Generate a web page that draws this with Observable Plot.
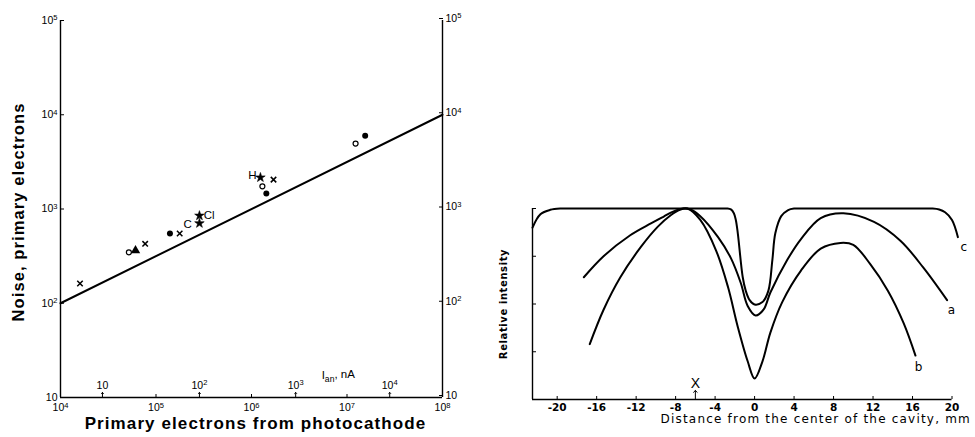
<!DOCTYPE html>
<html><head><meta charset="utf-8">
<script src="https://cdn.jsdelivr.net/npm/d3@7"></script>
<script src="https://cdn.jsdelivr.net/npm/@observablehq/plot@0.6"></script>
<style>
body{margin:0;background:#fff}
#wrap{position:relative;width:975px;height:437px;overflow:hidden;background:#fff}
#left,#right{position:absolute;top:0}
#left{left:0}
#right{left:470px}
</style></head><body><div id="wrap"><div id="left"></div><div id="right"></div></div>
<script>
// ---------- Left panel data ----------
const xTicks = [1e4, 1e5, 1e6, 1e7, 1e8];
const xTickLabels = ["10⁴", "10⁵", "10⁶", "10⁷", "10⁸"];
const yTicks = [10, 1e2, 1e3, 1e4, 1e5];
const yTickLabels = ["10", "10²", "10³", "10⁴", "10⁵"];
const ianPos = [2.75e4, 2.85e5, 2.9e6, 2.8e7];
const ianLabels = ["10", "10²", "10³", "10⁴"];
const ianTitle = ["I|an|, nA"];
const ianTitleX = [8.1e6];
const ianTitleY = [17];
const fitX = [1e4, 1e8];
const fitY = [100, 1e4];
const ptX = [1.6e4, 5.2e4, 6.1e4, 7.7e4, 1.4e5, 1.77e5, 2.85e5, 2.85e5, 1.24e6, 1.3e6, 1.43e6, 1.7e6, 1.23e7, 1.55e7];
const ptY = [162, 347, 363, 427, 550, 550, 705, 850, 2160, 1740, 1460, 2050, 4950, 6000];
const ptKind = ["cross", "open", "triangle", "cross", "filled", "cross", "star", "star", "star", "open", "filled", "cross", "open", "filled"];
const annText = ["C", "Cl", "H"];
const annX = [2.14e5, 3.6e5, 1.02e6];
const annY = [685, 850, 2260];

// ---------- Right panel data ----------
const dTicks = [-20, -16, -12, -8, -4, 0, 4, 8, 12, 16, 20];
const iTicks = [0, 0.25, 0.5, 0.75, 1];
const cX = [-22.5, -21.7, -20.7, -19.6, -18, -12, -6, -3.5, -2.8, -2.4, -2.1, -1.9, -1.7, -1.2, -0.9, -0.5, 0, 0.8, 1.4, 1.8, 2.1, 2.7, 3.4, 4, 4.8, 10, 17, 18, 18.7, 19.3, 20, 20.6];
const cY = [0.90, 0.97, 0.993, 1.0, 1.0, 1.0, 1.0, 1.0, 1.0, 0.995, 0.975, 0.94, 0.87, 0.64, 0.57, 0.52, 0.497, 0.51, 0.57, 0.73, 0.87, 0.96, 0.992, 1.0, 1.0, 1.0, 1.0, 1.0, 0.995, 0.98, 0.94, 0.85];
const aX = [-17.3, -15.3, -12.6, -10.5, -9.2, -8.2, -7.2, -6.5, -5.5, -3.7, -2.4, -1.4, -0.7, 0.1, 0.9, 1.6, 3.3, 4.7, 6.7, 9.0, 12.1, 14.8, 17.1, 19.5];
const aY = [0.64, 0.75, 0.86, 0.922, 0.958, 0.985, 1.0, 0.995, 0.96, 0.85, 0.74, 0.61, 0.49, 0.44, 0.47, 0.56, 0.73, 0.84, 0.95, 0.975, 0.93, 0.83, 0.69, 0.52];
const bX = [-16.7, -15.3, -13.6, -11.5, -9.8, -8.5, -7.5, -6.8, -5.5, -3.9, -2.7, -1.7, -0.7, 0, 0.8, 1.6, 2.8, 4.7, 6.7, 8.7, 10.0, 11.7, 13.5, 15.1, 16.3];
const bY = [0.29, 0.47, 0.64, 0.80, 0.905, 0.965, 0.995, 1.0, 0.94, 0.78, 0.59, 0.38, 0.20, 0.11, 0.20, 0.35, 0.51, 0.675, 0.79, 0.82, 0.81, 0.71, 0.57, 0.40, 0.23];
const curveLabel = ["a", "b", "c"];
const curveLabelX = [19.95, 16.6, 21.2];
const curveLabelY = [0.466, 0.17, 0.80];
const markerX = [-6];
const markerText = ["X"];

// ---------- build tables ----------
const xFmt = new Map(xTicks.map((d, i) => [d, xTickLabels[i]]));
const yFmt = new Map(yTicks.map((d, i) => [d, yTickLabels[i]]));
const points = ptX.map((x, i) => ({x, y: ptY[i], kind: ptKind[i]}));
const fit = fitX.map((x, i) => ({x, y: fitY[i]}));
const ann = annText.map((t, i) => ({t, x: annX[i], y: annY[i]}));
const ian = ianPos.map((x, i) => ({x, t: ianLabels[i]}));
const toRows = (X, Y, name) => X.map((x, i) => ({x, y: Y[i], name}));
const curves = [...toRows(aX, aY, "a"), ...toRows(bX, bY, "b"), ...toRows(cX, cY, "c")];
const clabels = curveLabel.map((t, i) => ({t, x: curveLabelX[i], y: curveLabelY[i]}));

const FONT = "'Liberation Sans', Arial, Helvetica, sans-serif";
const FONT2 = "'DejaVu Sans', 'Liberation Sans', sans-serif";

const left = Plot.plot({
  width: 470, height: 437,
  marginLeft: 60, marginRight: 28, marginTop: 20, marginBottom: 40,
  style: {fontFamily: FONT, fontSize: "10px", background: "white", color: "black", overflow: "visible"},
  x: {type: "log", domain: [1e4, 1e8]},
  y: {type: "log", domain: [10, 1e5]},
  marks: [
    Plot.ruleX([1e4, 1e8], {stroke: "black", strokeWidth: 1.4}),
    Plot.ruleY([10], {stroke: "black", strokeWidth: 1.6}),
    Plot.axisY(yTicks, {anchor: "left", tickSize: -4, tickPadding: 7, tickFormat: d => yFmt.get(d), label: null, fontSize: 10.5}),
    Plot.axisY(yTicks, {anchor: "right", tickSize: -4, tickPadding: 7, tickFormat: d => yFmt.get(d), label: null, fontSize: 10.5, dy: -2}),
    Plot.axisX(xTicks, {anchor: "bottom", tickSize: -3, tickPadding: 9, tickFormat: d => xFmt.get(d), label: null, fontSize: 10.5}),
    Plot.vector(ian, {x: "x", y: 10, length: 5, anchor: "start", stroke: "black", strokeWidth: 1}),
    Plot.text(ian, {x: "x", y: 10, text: "t", dy: -12, fontSize: 10.5}),
    Plot.text(ianTitle, {x: ianTitleX, y: ianTitleY, text: d => d, fontSize: 11.5}),
    Plot.line(fit, {x: "x", y: "y", stroke: "black", strokeWidth: 2}),
    Plot.dot(points.filter(d => d.kind === "cross"), {x: "x", y: "y", symbol: "times", r: 2.6, stroke: "black", strokeWidth: 1.5}),
    Plot.dot(points.filter(d => d.kind === "open"), {x: "x", y: "y", symbol: "circle", r: 2.5, stroke: "black", strokeWidth: 1.2, fill: "white"}),
    Plot.dot(points.filter(d => d.kind === "filled"), {x: "x", y: "y", symbol: "circle", r: 3, fill: "black", stroke: "none"}),
    Plot.dot(points.filter(d => d.kind === "triangle"), {x: "x", y: "y", symbol: "triangle", r: 3.5, fill: "black", stroke: "none"}),
    Plot.dot(points.filter(d => d.kind === "star"), {x: "x", y: "y", symbol: "star", r: 3, fill: "black", stroke: "black", strokeWidth: 0.6}),
    Plot.text(ann, {x: "x", y: "y", text: "t", fontSize: 11.5}),
    Plot.text(["Noise, primary electrons"], {frameAnchor: "left", textAnchor: "middle", rotate: -90, dx: -42, dy: 3, fontSize: 16.5, fontWeight: "bold"}),
    Plot.text(["Primary electrons from photocathode"], {frameAnchor: "bottom", textAnchor: "middle", dy: 31, dx: 4, fontSize: 17, fontWeight: "bold"})
  ]
});
document.getElementById("left").appendChild(left);

const right = Plot.plot({
  width: 505, height: 437,
  marginLeft: 62, marginRight: 23.5, marginTop: 208, marginBottom: 38,
  style: {fontFamily: FONT2, fontSize: "10px", background: "white", color: "black", overflow: "visible"},
  x: {domain: [-22.5, 20]},
  y: {domain: [0, 1]},
  marks: [
    Plot.ruleX([-22.5], {stroke: "black", strokeWidth: 1.4}),
    Plot.ruleY([0], {x1: -22.5, x2: 20, stroke: "black", strokeWidth: 1.6}),
    Plot.axisY(iTicks, {anchor: "left", tickSize: -4, tickFormat: () => "", label: null}),
    Plot.axisX(dTicks, {anchor: "bottom", tickSize: -3, tickPadding: 7, tickFormat: d => d < 0 ? "-" + Math.abs(d) : String(d), label: null, fontSize: 10.5, fontWeight: "bold"}),
    Plot.line(curves, {x: "x", y: "y", z: "name", curve: "catmull-rom", stroke: "black", strokeWidth: 2, clip: false}),
    Plot.text(clabels, {x: "x", y: "y", text: "t", fontSize: 12}),
    Plot.vector(markerX, {x: d => d, y: 0, length: 9, anchor: "start", stroke: "black", strokeWidth: 1}),
    Plot.text(markerX, {x: d => d, y: 0, dy: -16, text: (d, i) => markerText[i], fontSize: 14, fontFamily: FONT}),
    Plot.text(["Relative intensity"], {frameAnchor: "left", textAnchor: "middle", rotate: -90, dx: -29, fontSize: 10, fontWeight: "bold"}),
    Plot.text(["Distance from the center of the cavity, mm"], {frameAnchor: "bottom-left", textAnchor: "start", dx: 128, dy: 23, fontSize: 12})
  ]
});
document.getElementById("right").appendChild(right);

// ---------- typography post-processing ----------
const SVGNS = "http://www.w3.org/2000/svg";
const supMap = {"⁰":"0","¹":"1","²":"2","³":"3","⁴":"4","⁵":"5","⁶":"6","⁷":"7","⁸":"8","⁹":"9"};
function tspan(txt, attrs) {
  const t = document.createElementNS(SVGNS, "tspan");
  for (const k in attrs) t.setAttribute(k, attrs[k]);
  t.textContent = txt;
  return t;
}
document.querySelectorAll("#wrap text").forEach(t => {
  const s = t.textContent;
  const m = s.match(/^([^⁰¹²³⁴⁵⁶⁷⁸⁹]*)([⁰¹²³⁴⁵⁶⁷⁸⁹]+)$/);
  if (m) {
    t.textContent = m[1];
    t.appendChild(tspan([...m[2]].map(c => supMap[c]).join(""), {dy: "-0.45em", "font-size": "0.72em"}));
  }
  const k = s.split("|");
  if (k.length === 3) {
    t.textContent = k[0];
    t.appendChild(tspan(k[1], {dy: "0.35em", "font-size": "0.75em"}));
    t.appendChild(tspan(k[2], {dy: "-0.35em"}));
  }
  if (s === "Primary electrons from photocathode" || s === "Noise, primary electrons") t.style.letterSpacing = "1.1px";
  if (s === "Distance from the center of the cavity, mm") t.style.letterSpacing = "1.2px";
  if (s === "Relative intensity") t.style.letterSpacing = "0.6px";
});
</script></body></html>
